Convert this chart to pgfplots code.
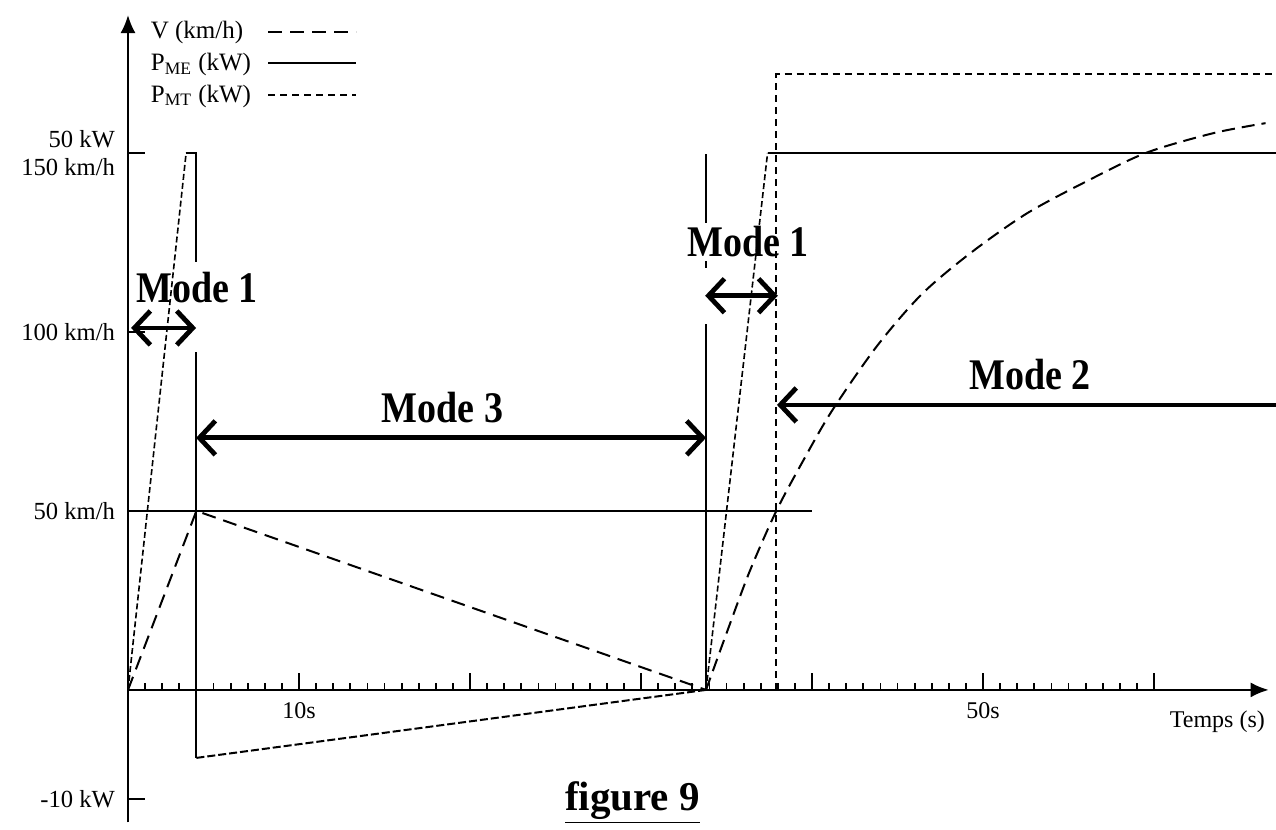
\documentclass[border=0pt]{standalone}
\usepackage{fontspec}
\setmainfont{Liberation Serif}
\usepackage{pgfplots}
\pgfplotsset{compat=1.18}
\usetikzlibrary{arrows.meta}

\tikzset{
  modearrow/.style={line width=2.4pt,
    {Straight Barb[length=8pt,width=17pt]}-{Straight Barb[length=8pt,width=17pt]}},
  modelabel/.style={font=\bfseries\fontsize{19}{22}\selectfont}
}
\newcommand{\mode}[1]{\scalebox{1}[1.15]{#1}}

\begin{document}
\begin{tikzpicture}
\begin{axis}[
  x=8.55pt, y=1.79pt,
  xmin=0, xmax=66.7, ymin=-37, ymax=188.5,
  axis lines=middle,
  axis line style={line width=1pt,-{Latex[length=9pt,width=7.5pt]}},
  clip=false,
  tick align=inside,
  major tick length=8.5pt, minor tick length=3.5pt,
  tick style={black, line width=0.9pt},
  xtick={0,10,...,60}, xticklabels={,10s,,,,50s,},
  minor x tick num=9,
  ytick={-30.5,50,100,150},
  yticklabels={-10 kW,50 km/h,100 km/h,{50 kW\\150 km/h}},
  yticklabel style={align=right, font=\fontsize{12.3}{14}\selectfont, xshift=-3pt},
  xticklabel style={font=\fontsize{12}{14}\selectfont, yshift=-3pt},
  legend plot pos=right,
  legend cell align=left,
  legend image code/.code={\draw[#1] (0pt,0pt) -- (44pt,0pt);},
  legend style={draw=none, fill=none, at={(axis cs:0.73,189)}, anchor=north west,
    font=\fontsize{12.5}{15}\selectfont, row sep=1.6pt, /tikz/column sep=6pt},
]
% vitesse du vehicule
\addplot[black, line width=1pt, dash pattern=on 7pt off 4pt] coordinates {(0,0)(4,50)(33.8,0)};
\addlegendentry{V (km/h)}
% puissance moteur electrique (kW -> x3)
\addplot[black, line width=1pt, y filter/.expression={3*y}] coordinates {(3.4,50)(4,50)(4,-6.33)};
\addlegendentry{P\textsubscript{ME} (kW)}
% puissance moteur thermique
\addplot[black, line width=1pt, dash pattern=on 3.5pt off 2.5pt, y filter/.expression={3*y}]
  coordinates {(37.9,0)(37.9,57.3)(67.1,57.3)};
\addlegendentry{P\textsubscript{MT} (kW)}

\addplot[forget plot, black, line width=0.8pt, dash pattern=on 3pt off 1.5pt, y filter/.expression={3*y}]
  coordinates {(0,0)(3.4,50)};
\addplot[forget plot, black, line width=1pt, dash pattern=on 4pt off 1.5pt, y filter/.expression={3*y}]
  coordinates {(4,-6.33)(33.8,0)};
\addplot[forget plot, black, line width=0.8pt, dash pattern=on 3pt off 1.5pt, y filter/.expression={3*y}]
  coordinates {(33.8,0)(37.4,50)};
\addplot[forget plot, black, line width=1pt, y filter/.expression={3*y}]
  coordinates {(37.4,50)(67.1,50)};
\addplot[forget plot, black, line width=1pt, dash pattern=on 6.5pt off 3.5pt, smooth]
  coordinates {(33.8,0)(35.05,16.5)(36.36,33.2)(37.89,49.8)(39.42,63.5)(41.17,78)
  (43.79,96)(46.41,110.5)(49.26,122)(52.53,133)(56.03,142)(59.53,150)
  (63.46,155.5)(66.52,158.3)};
% reperes
\addplot[forget plot, black, line width=1pt] coordinates {(0,50)(40,50)};
\addplot[forget plot, black, line width=1pt] coordinates {(33.8,0)(33.8,149.7)};

\fill[white] (axis cs:3.7,94.4) rectangle (axis cs:4.3,119.6);
\fill[white] (axis cs:33.5,102.2) rectangle (axis cs:34.1,117.9);
\fill[white] (axis cs:33.5,119.8) rectangle (axis cs:34.1,130.4);

\draw[modearrow] (axis cs:0.18,101.1) -- (axis cs:3.98,101.1);
\draw[modearrow] (axis cs:3.98,70.4) -- (axis cs:33.8,70.4);
\draw[modearrow] (axis cs:33.75,110.1) -- (axis cs:38.0,110.1);
\draw[line width=2.4pt,{Straight Barb[length=8pt,width=17pt]}-] (axis cs:37.95,79.6) -- (axis cs:67.13,79.6);

\node[modelabel] at (axis cs:4.04,112.3) {\mode{Mode 1}};
\node[modelabel] at (axis cs:18.4,78.8) {\mode{Mode 3}};
\node[modelabel] at (axis cs:36.26,125.1) {\mode{Mode 1}};
\node[modelabel] at (axis cs:52.75,88) {\mode{Mode 2}};

\node[font=\fontsize{12}{14}\selectfont] at (axis cs:63.7,-8.9) {Temps (s)};
\node[font=\bfseries\fontsize{20.5}{24}\selectfont] at (axis cs:29.5,-31.5) {\underline{figure 9}};

\coordinate (bl) at (axis cs:-7.485,-39.1);
\coordinate (tr) at (axis cs:67.13,192.7);
\end{axis}
\pgfresetboundingbox
\path[use as bounding box] (bl) rectangle (tr);
\end{tikzpicture}
\end{document}
